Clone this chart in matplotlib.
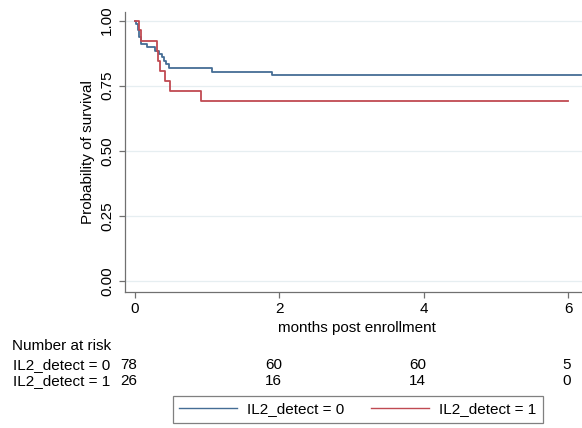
import matplotlib
matplotlib.use("Agg")
import matplotlib.pyplot as plt
from matplotlib.lines import Line2D
from matplotlib import transforms

# ---- data ----
blue_t = [0, 0.02, 0.04, 0.06, 0.09, 0.17, 0.28, 0.33, 0.37, 0.40, 0.43, 0.47, 1.07, 1.90, 6.17]
blue_s = [1.0, 0.987, 0.962, 0.936, 0.910, 0.897, 0.885, 0.872, 0.859, 0.846, 0.833, 0.817, 0.803, 0.792, 0.792]
red_t = [0, 0.05, 0.08, 0.30, 0.32, 0.35, 0.41, 0.49, 0.92, 6.0]
red_s = [1.0, 0.962, 0.923, 0.885, 0.846, 0.808, 0.769, 0.731, 0.693, 0.693]

group_labels = ["IL2_detect = 0", "IL2_detect = 1"]
x_ticks = [0, 2, 4, 6]
y_ticks = [0.00, 0.25, 0.50, 0.75, 1.00]
y_tick_labels = ["0.00", "0.25", "0.50", "0.75", "1.00"]
risk_times = [0, 2, 4, 6]
risk0 = [78, 60, 60, 5]
risk1 = [26, 16, 14, 0]

BLUE = "#456d95"
RED = "#c04a52"
W, H = 582, 428

plt.rcParams['font.family'] = ['Liberation Sans', 'DejaVu Sans']
FS = 11

fig = plt.figure(figsize=(W / 100, H / 100), dpi=100)
ax = fig.add_axes([125 / W, (H - 291.7) / H, (W - 125) / W, (291.7 - 12) / H])

ax.step(blue_t, blue_s, where='post', color=BLUE, lw=1.3, zorder=3)
ax.step(red_t, red_s, where='post', color=RED, lw=1.3, zorder=3)

ax.set_xlim(-0.138, 6.19)
ax.set_ylim(-0.041, 1.033)
ax.set_xticks(x_ticks)
ax.set_xticklabels([str(t) for t in x_ticks], fontsize=FS)
ax.set_yticks(y_ticks)
ax.set_yticklabels(y_tick_labels, fontsize=FS, rotation=90, va='center')
ax.grid(axis='y', color='#e6eef1', lw=0.9, zorder=0)
ax.grid(axis='x', visible=False)
for s in ['top', 'right']:
    ax.spines[s].set_visible(False)
for s in ['left', 'bottom']:
    ax.spines[s].set_color('#707070')
    ax.spines[s].set_linewidth(0.9)
ax.tick_params(axis='both', colors='#707070', labelcolor='black', length=4, width=0.9)
ax.tick_params(axis='x', pad=3.5)
ax.tick_params(axis='y', pad=4)

ax.set_ylabel("Probability of survival", fontsize=FS, va='center')
ax.yaxis.set_label_coords((88 - 125) / (W - 125), 0.5)
ax.set_xlabel("months post enrollment", fontsize=FS, va='baseline')
ax.xaxis.set_label_coords((357 - 125) / (W - 125), -(331.7 - 291.7) / (291.7 - 12))

# ---- number at risk table ----
fig.text(12 / W, 1 - 350 / H, "Number at risk", fontsize=FS, va='baseline', ha='left')
fig.text(13 / W, 1 - 369 / H, group_labels[0], fontsize=FS, va='baseline', ha='left')
fig.text(13 / W, 1 - 385 / H, group_labels[1], fontsize=FS, va='baseline', ha='left')
bt = transforms.blended_transform_factory(ax.transData, fig.transFigure)
off = transforms.ScaledTranslation(2.5 / 100, 0, fig.dpi_scale_trans)
for t, n0, n1 in zip(risk_times, risk0, risk1):
    fig.text(t, 1 - 369 / H, str(n0), fontsize=FS, va='baseline', ha='right', transform=bt + off)
    fig.text(t, 1 - 385 / H, str(n1), fontsize=FS, va='baseline', ha='right', transform=bt + off)

# ---- legend ----
handles = [Line2D([], [], color=BLUE, lw=1.0), Line2D([], [], color=RED, lw=1.0)]
leg = fig.legend(handles, group_labels, ncol=2, loc='center',
                 bbox_to_anchor=(358 / W, 1 - 409.5 / H), fontsize=FS,
                 frameon=True, fancybox=False, edgecolor='#606060',
                 handlelength=3.8, handletextpad=0.65, columnspacing=1.75,
                 borderpad=0.45, borderaxespad=0)
leg.get_frame().set_linewidth(0.9)

fig.savefig("out.png", dpi=100)
